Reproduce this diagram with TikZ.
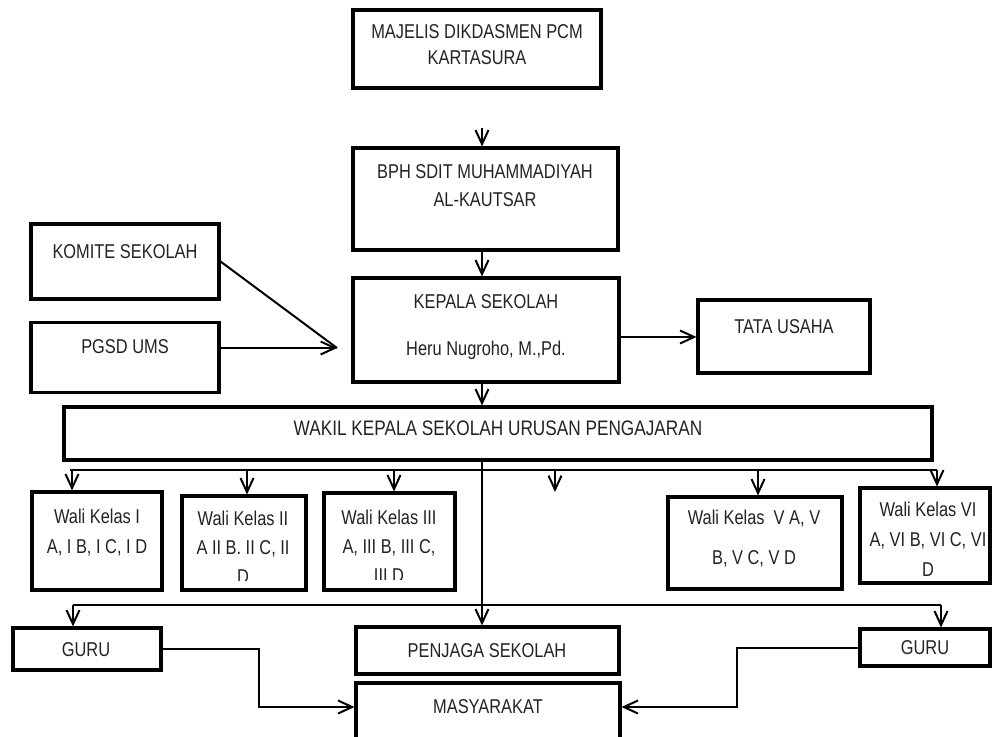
\documentclass[tikz,border=0pt]{standalone}
\usepackage{fontspec}
\setmainfont{Liberation Sans}[FakeStretch=0.82]
\usetikzlibrary{arrows.meta}
\definecolor{txtc}{RGB}{35,35,35}
\begin{document}
\begin{tikzpicture}[x=1pt,y=-1pt,
  box/.style={draw,line width=3.1pt,inner sep=0pt},
  txt/.style={text=txtc,font=\fontsize{20}{26}\selectfont,align=center,inner sep=0pt},
  conn/.style={line width=2pt},
  arr/.style={conn,-{Straight Barb[length=14pt,width=13pt]}}]
\useasboundingbox[fill=white] (0,0) rectangle (992,736);

% boxes
\node[box,minimum width=248pt,minimum height=78pt] (majelis) at (477,49) {};
\node[box,minimum width=265pt,minimum height=102pt] (bph) at (485.5,199) {};
\node[box,minimum width=266pt,minimum height=104pt] (kepala) at (486,330) {};
\node[box,minimum width=188pt,minimum height=75pt] (komite) at (125,261.5) {};
\node[box,minimum width=188pt,minimum height=70pt] (pgsd) at (125,357.5) {};
\node[box,minimum width=172pt,minimum height=73pt] (tata) at (784,336.5) {};
\node[box,minimum width=868pt,minimum height=53pt] (wakil) at (498,433.5) {};
\node[box,minimum width=130pt,minimum height=98pt] (w1) at (97,541) {};
\node[box,minimum width=124pt,minimum height=94pt] (w2) at (244,543) {};
\node[box,minimum width=131pt,minimum height=97pt] (w3) at (389.5,541.5) {};
\node[box,minimum width=174pt,minimum height=92pt] (w5) at (755,543) {};
\node[box,minimum width=130pt,minimum height=95pt] (w6) at (925,535.5) {};
\node[box,minimum width=148pt,minimum height=42pt] (guru1) at (87,649) {};
\node[box,minimum width=263pt,minimum height=47pt] (penjaga) at (487.5,650.5) {};
\node[box,minimum width=264pt,minimum height=58pt] (masy) at (488,712) {};
\node[box,minimum width=130pt,minimum height=37pt] (guru2) at (925,647.5) {};

% texts
\node[txt] (majelis-t) at (477,45) {MAJELIS DIKDASMEN PCM\\KARTASURA};
\node[txt,font=\fontsize{20}{28}\selectfont] (bph-t) at (485,186) {BPH SDIT MUHAMMADIYAH\\AL-KAUTSAR};
\node[txt] (kepala-t1) at (486,302) {KEPALA SEKOLAH};
\node[txt] (kepala-t2) at (486,350) {Heru Nugroho, M.,Pd.};
\node[txt] (komite-t) at (125,252) {KOMITE SEKOLAH};
\node[txt] (pgsd-t) at (125,347) {PGSD UMS};
\node[txt] (tata-t) at (784,327) {TATA USAHA};
\node[txt,font=\fontsize{21}{26}\selectfont] (wakil-t) at (498,428) {WAKIL KEPALA SEKOLAH URUSAN PENGAJARAN};
\node[txt,font=\fontsize{20}{30}\selectfont] (w1-t) at (97,533) {Wali Kelas I\\A, I B, I C, I D};
\begin{scope}
  \clip (w2.north west) rectangle ([yshift=11pt]w2.south east);
  \node[txt,font=\fontsize{20}{29}\selectfont] (w2-t) at (243,547) {Wali Kelas II\\A II B. II C, II\\D};
\end{scope}
\begin{scope}
  \clip (w3.north west) rectangle ([yshift=12pt]w3.south east);
  \node[txt,font=\fontsize{20}{29}\selectfont] (w3-t) at (389,546) {Wali Kelas III\\A, III B, III C,\\III D};
\end{scope}
\node[txt,font=\fontsize{20}{40}\selectfont] (w5-t) at (754,539) {Wali Kelas\ \ V A, V\\B, V C, V D};
\node[txt,font=\fontsize{20}{30}\selectfont] (w6-t) at (928,539) {Wali Kelas VI\\A, VI B, VI C, VI\\D};
\node[txt] (guru1-t) at (86,650) {GURU};
\node[txt] (penjaga-t) at (487,651) {PENJAGA SEKOLAH};
\node[txt] (masy-t) at (488,707) {MASYARAKAT};
\node[txt] (guru2-t) at (925,648) {GURU};

% connectors
\coordinate (a0) at (482,128);
\coordinate (spine) at (482,0);
\draw[arr] (a0) -- (a0 |- bph.north);
\draw[arr] (spine |- bph.south) -- (spine |- kepala.north);
\draw[arr] (spine |- kepala.south) -- (spine |- wakil.north);

\coordinate (ktip) at (337,348);
\draw[conn] (komite.east) -- (ktip);
\draw[arr] (ktip -| pgsd.east) -- (ktip);

\coordinate (ty) at (0,337);
\draw[arr] (ty -| kepala.east) -- (ty -| tata.west);

% upper bus
\coordinate (busL) at (70,470);
\coordinate (busR) at (937,470);
\draw[conn] (busL) -- (busR);
\coordinate (d1) at (72,470);
\coordinate (d2) at (247,470);
\coordinate (d3) at (394,470);
\coordinate (d4) at (555,470);
\coordinate (e4) at (555,492);
\coordinate (d5) at (758,470);
\coordinate (d6) at (937,470);
\draw[arr] (d1) -- (d1 |- w1.north);
\draw[arr] (d2) -- (d2 |- w2.north);
\draw[arr] (d3) -- (d3 |- w3.north);
\draw[arr] (d4) -- (e4);
\draw[arr] (d5) -- (d5 |- w5.north);
\draw[arr] (d6) -- (d6 |- w6.north);

% spine to penjaga
\draw[arr] (spine |- wakil.south) -- (spine |- penjaga.north);

% lower bus
\coordinate (lbL) at (73,605);
\coordinate (lbR) at (941,605);
\draw[conn] (lbL) -- (lbR);
\draw[arr] (lbL) -- (lbL |- guru1.north);
\draw[arr] (lbR) -- (lbR |- guru2.north);

% guru to masyarakat
\coordinate (g1k) at (259,707);
\coordinate (g2k) at (737,707);
\draw[arr] (guru1.east) -| (g1k) -- (g1k -| masy.west);
\draw[arr] (guru2.west) -| (g2k) -- (g2k -| masy.east);
\end{tikzpicture}
\end{document}
